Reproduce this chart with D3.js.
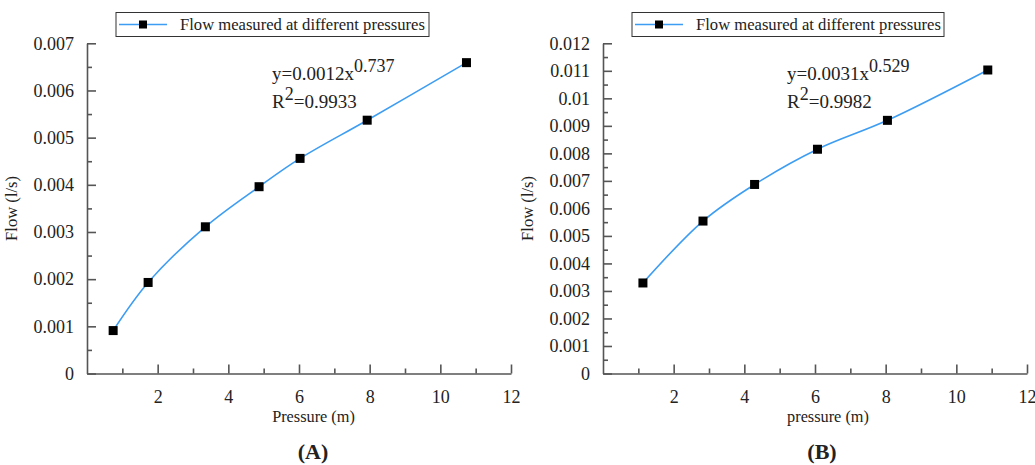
<!DOCTYPE html>
<html>
<head>
<meta charset="utf-8">
<script src="https://cdn.jsdelivr.net/npm/d3@7/dist/d3.min.js"></script>
<style>
  html, body { margin: 0; padding: 0; background: #fff; }
  svg { display: block; }
  text { font-family: "Liberation Serif", "Times New Roman", serif; fill: #222; }
</style>
</head>
<body>
<svg id="chart" width="1035" height="465"></svg>
<script>
// ---------- data ----------
const seriesName = "Flow measured at different pressures";

const pressureA = [0.74, 1.73, 3.35, 4.87, 6.03, 7.93, 10.74];
const flowA     = [0.00091, 0.00193, 0.00311, 0.00396, 0.00456, 0.00537, 0.00659];

const pressureB = [1.13, 2.83, 4.29, 6.07, 8.05, 10.89];
const flowB     = [0.00329, 0.00554, 0.00687, 0.00815, 0.00920, 0.01103];

const xTicks      = [2, 4, 6, 8, 10, 12];
const xMinorTicks = [1, 3, 5, 7, 9, 11];

const yTicksA      = [0, 0.001, 0.002, 0.003, 0.004, 0.005, 0.006, 0.007];
const yTickLabelsA = ["0", "0.001", "0.002", "0.003", "0.004", "0.005", "0.006", "0.007"];
const yMinorA      = [0.0005, 0.0015, 0.0025, 0.0035, 0.0045, 0.0055, 0.0065];

const yTicksB      = [0, 0.001, 0.002, 0.003, 0.004, 0.005, 0.006, 0.007, 0.008, 0.009, 0.010, 0.011, 0.012];
const yTickLabelsB = ["0", "0.001", "0.002", "0.003", "0.004", "0.005", "0.006", "0.007", "0.008", "0.009", "0.01", "0.011", "0.012"];
const yMinorB      = [0.0005, 0.0015, 0.0025, 0.0035, 0.0045, 0.0055, 0.0065, 0.0075, 0.0085, 0.0095, 0.0105, 0.0115];

const panels = [
  { x: pressureA, y: flowA, yMax: 0.007, yTicks: yTicksA, yLabels: yTickLabelsA, yMinor: yMinorA,
    xTitle: "Pressure (m)", yTitle: "Flow (l/s)", eqCoef: "y=0.0012x", eqExp: "0.737", r2: "=0.9933",
    tag: "(A)", left: 87, right: 511, eqX: 272, legendX: 116, legendW: 313, titleX: 313.5, tagX: 313 },
  { x: pressureB, y: flowB, yMax: 0.012, yTicks: yTicksB, yLabels: yTickLabelsB, yMinor: yMinorB,
    xTitle: "pressure (m)", yTitle: "Flow (l/s)", eqCoef: "y=0.0031x", eqExp: "0.529", r2: "=0.9982",
    tag: "(B)", left: 603, right: 1027, eqX: 787, legendX: 632, legendW: 312, titleX: 828, tagX: 822 }
];

const svg = d3.select("#chart");
const plotTop = 43.3, plotBottom = 373.5;
const axisColor = "#555";
const lineColor = "#3d9df2";

panels.forEach(p => {
  const g = svg.append("g");
  const x = d3.scaleLinear().domain([0, 12]).range([p.left, p.right]);
  const y = d3.scaleLinear().domain([0, p.yMax]).range([plotBottom, plotTop]);

  // minor ticks
  g.append("g").attr("transform", `translate(0,${plotBottom})`)
    .call(d3.axisBottom(x).tickValues(xMinorTicks).tickSize(-5).tickFormat(""))
    .call(s => s.select(".domain").remove());
  g.append("g").attr("transform", `translate(${p.left},0)`)
    .call(d3.axisLeft(y).tickValues(p.yMinor).tickSize(-5).tickFormat(""))
    .call(s => s.select(".domain").remove());

  // major axes
  g.append("g").attr("transform", `translate(0,${plotBottom})`)
    .call(d3.axisBottom(x).tickValues(xTicks).tickSizeInner(-9).tickSizeOuter(0).tickPadding(17).tickFormat(d3.format("d")));
  g.append("g").attr("transform", `translate(${p.left},0)`)
    .call(d3.axisLeft(y).tickValues(p.yTicks).tickSizeInner(-9).tickSizeOuter(0).tickPadding(13)
      .tickFormat((d, i) => p.yLabels[i]));

  g.selectAll(".domain, .tick line").attr("stroke", axisColor).attr("stroke-width", 1.6);
  g.selectAll(".tick text").attr("font-size", 18).attr("font-family", "Liberation Serif").attr("fill", "#222");

  // axis titles
  g.append("text").attr("x", p.titleX).attr("y", 422)
    .attr("text-anchor", "middle").attr("font-size", 16.3).text(p.xTitle);
  g.append("text").attr("transform", `translate(${p.left - 70},${(plotTop + plotBottom) / 2}) rotate(-90)`)
    .attr("text-anchor", "middle").attr("font-size", 16.6).text(p.yTitle);

  // panel tag
  g.append("text").attr("x", p.tagX).attr("y", 459)
    .attr("text-anchor", "middle").attr("font-size", 22).attr("font-weight", "bold").text(p.tag);

  // line
  const pts = p.x.map((d, i) => [d, p.y[i]]);
  g.append("path").datum(pts)
    .attr("fill", "none").attr("stroke", lineColor).attr("stroke-width", 1.6)
    .attr("d", d3.line().x(d => x(d[0])).y(d => y(d[1])).curve(d3.curveCatmullRom.alpha(0.5)));

  // markers
  g.selectAll("rect.m").data(pts).join("rect").attr("class", "m")
    .attr("x", d => x(d[0]) - 4.5).attr("y", d => y(d[1]) - 4.5)
    .attr("width", 9).attr("height", 9).attr("fill", "#000");

  // equation
  const eq = g.append("text").attr("x", p.eqX).attr("y", 80).attr("font-size", 19);
  eq.append("tspan").text(p.eqCoef);
  eq.append("tspan").attr("dy", -8).attr("font-size", 18).text(p.eqExp);
  const r2 = g.append("text").attr("x", p.eqX).attr("y", 108).attr("font-size", 19);
  r2.append("tspan").text("R");
  r2.append("tspan").attr("dy", -8).attr("font-size", 18).text("2");
  r2.append("tspan").attr("dy", 8).text(p.r2);

  // legend
  const lg = g.append("g").attr("transform", `translate(${p.legendX},12.5)`);
  lg.append("rect").attr("width", p.legendW).attr("height", 24)
    .attr("fill", "#fff").attr("stroke", "#333").attr("stroke-width", 1);
  lg.append("line").attr("x1", 3).attr("x2", 51).attr("y1", 12).attr("y2", 12)
    .attr("stroke", lineColor).attr("stroke-width", 1.6);
  lg.append("rect").attr("x", 27 - 4).attr("y", 8).attr("width", 8).attr("height", 8).attr("fill", "#000");
  lg.append("text").attr("x", 64).attr("y", 17.5).attr("font-size", 16.6).text(seriesName);
});
</script>
</body>
</html>
